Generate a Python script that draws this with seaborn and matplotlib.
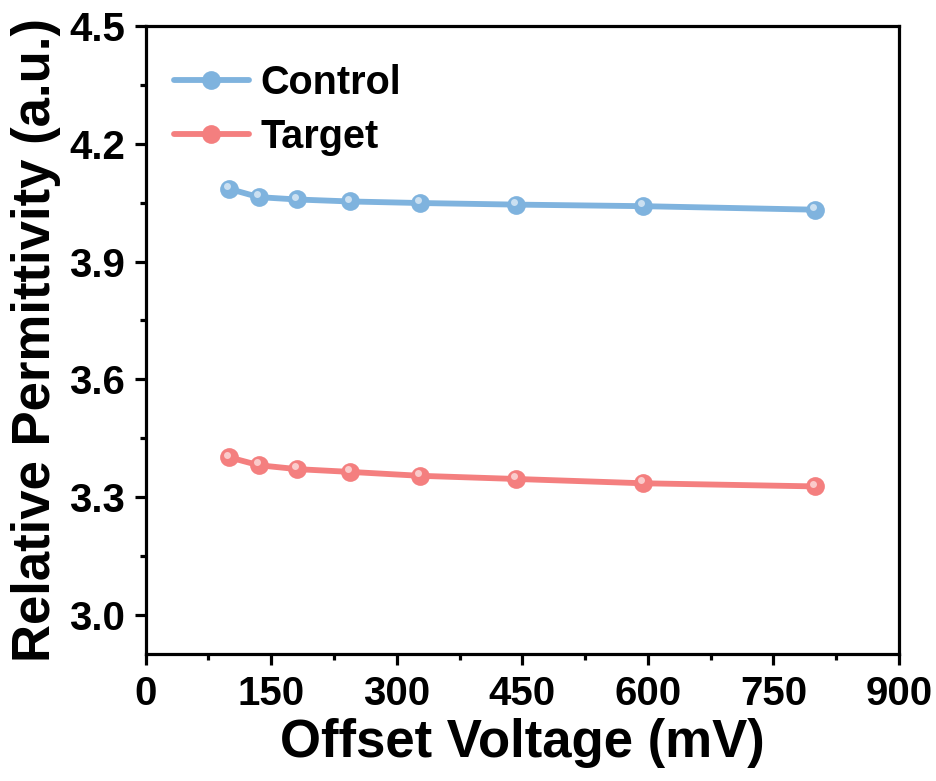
import matplotlib
matplotlib.use("Agg")
import matplotlib.pyplot as plt
import matplotlib.transforms as mtransforms
from matplotlib.ticker import MultipleLocator
import seaborn as sns
import pandas as pd

# ---- data ----
offset_voltage = [100, 135, 181, 244, 328, 442, 594, 800]
control = [4.085, 4.064, 4.058, 4.053, 4.049, 4.045, 4.041, 4.032]
target = [3.401, 3.381, 3.371, 3.364, 3.354, 3.346, 3.335, 3.327]
series_names = ["Control", "Target"]
x_ticks = [0, 150, 300, 450, 600, 750, 900]
y_ticks = [3.0, 3.3, 3.6, 3.9, 4.2, 4.5]

df = pd.DataFrame({
    "Offset Voltage": offset_voltage * 2,
    "Permittivity": control + target,
    "Series": [series_names[0]] * len(offset_voltage) + [series_names[1]] * len(offset_voltage),
})

colors = {"Control": "#7FB3DE", "Target": "#F47F7F"}

sns.set_theme(style="ticks")
plt.rcParams["font.family"] = ["Liberation Sans", "DejaVu Sans"]
plt.rcParams["font.weight"] = "bold"
plt.rcParams["axes.labelweight"] = "bold"
plt.rcParams["text.color"] = "black"
plt.rcParams["axes.labelcolor"] = "black"
plt.rcParams["xtick.color"] = "black"
plt.rcParams["ytick.color"] = "black"

fig = plt.figure(figsize=(9.37, 7.81), dpi=100)
ax = fig.add_axes([0.1555, 0.1626, 0.8039, 0.8041])

sns.lineplot(data=df, x="Offset Voltage", y="Permittivity", hue="Series",
             palette=colors, marker="o", markersize=13.5, linewidth=4.2,
             markeredgewidth=0, ax=ax, legend=True)

# glossy highlights on markers
hl = mtransforms.offset_copy(ax.transData, fig=fig, x=-1.5, y=2.0, units="points")
for name, vals in zip(series_names, [control, target]):
    ax.plot(offset_voltage, vals, linestyle="none", marker="o", markersize=5,
            markeredgewidth=0, color="white", alpha=0.6, transform=hl, zorder=5)

ax.set_xlim(0, 900)
ax.set_ylim(2.9, 4.5)
ax.set_xticks(x_ticks)
ax.set_yticks(y_ticks)
ax.set_yticklabels([f"{v:.1f}" for v in y_ticks])
ax.xaxis.set_minor_locator(MultipleLocator(75))
ax.yaxis.set_minor_locator(MultipleLocator(0.15))

for s in ax.spines.values():
    s.set_linewidth(2.3)
    s.set_color("black")
    s.set_visible(True)

ax.tick_params(which="major", direction="out", length=8, width=2.3,
               labelsize=29, pad=7, colors="black", labelcolor="black",
               top=False, right=False)
ax.tick_params(which="minor", direction="out", length=4, width=2.3,
               colors="black", top=False, right=False)
for lab in ax.get_xticklabels() + ax.get_yticklabels():
    lab.set_fontweight("bold")

ax.set_xlabel("Offset Voltage (mV)", fontsize=38, fontweight="bold", labelpad=4, color="black")
ax.set_ylabel("Relative Permittivity (a.u.)", fontsize=38, fontweight="bold", labelpad=6, color="black")

leg = ax.legend(loc="upper left", bbox_to_anchor=(0.037, 0.94), frameon=False,
                prop={"size": 28.5, "weight": "bold"}, handlelength=1.9,
                handletextpad=0.3, labelspacing=0.4, borderpad=0, borderaxespad=0)
for t in leg.get_texts():
    t.set_color("black")

fig.savefig("out.png", dpi=100)
